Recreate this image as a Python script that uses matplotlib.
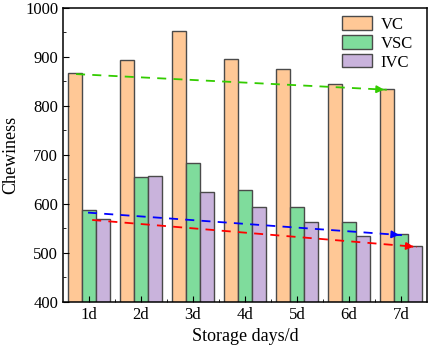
import numpy as np
import matplotlib.pyplot as plt
from matplotlib.ticker import MultipleLocator

plt.rcParams['font.family'] = ['Liberation Serif', 'DejaVu Serif']
plt.rcParams['mathtext.fontset'] = 'stix'

# dati
giorni = ['1d', '2d', '3d', '4d', '5d', '6d', '7d']
vc = [868, 893, 953, 896, 876, 845, 835]
vsc = [587, 654, 683, 629, 593, 563, 539]
ivc = [569, 656, 625, 594, 562, 535, 514]

# linee di tendenza (inizio, fine)
trend_vc = [865, 833]
trend_vsc = [582, 536]
trend_ivc = [567, 512]

x = np.arange(1, len(giorni) + 1)
w = 0.27

fig = plt.figure(figsize=(4.29, 3.48), dpi=100)
ax = fig.add_axes([0.147, 0.133, 0.848, 0.844])

bordo = '#4a4a4a'
ax.bar(x - w, vc, w, color='#ffc896', edgecolor=bordo, lw=1, label='VC')
ax.bar(x, vsc, w, color='#7fdc9c', edgecolor=bordo, lw=1, label='VSC')
ax.bar(x + w, ivc, w, color='#c9b3dc', edgecolor=bordo, lw=1, label='IVC')

# tendenze tratteggiate con freccia finale
def tendenza(x0, x1, y, col):
    ax.plot([x0, x1], y, ls=(0, (5, 4)), color=col, lw=1.3, zorder=3)
    dx = (x1 - x0) * 0.02
    dy = (y[1] - y[0]) * 0.02
    ax.annotate('', xy=(x1, y[1]), xytext=(x1 - dx, y[1] - dy),
                arrowprops=dict(arrowstyle='-|>', color=col, lw=1.2,
                                mutation_scale=11), zorder=4)

tendenza(0.75, 6.73, trend_vc, '#33cc00')
tendenza(0.98, 7.02, trend_vsc, '#0000ff')
tendenza(1.06, 7.30, trend_ivc, '#ff0000')

ax.set_xlim(0.5, 7.5)
ax.set_ylim(400, 1000)
ax.set_xticks(x)
ax.set_xticklabels(giorni)
ax.set_xticks(x[:-1] + 0.5, minor=True)
ax.yaxis.set_major_locator(MultipleLocator(100))
ax.yaxis.set_minor_locator(MultipleLocator(50))
ax.tick_params(which='both', direction='in', labelsize=12)
ax.tick_params(which='major', length=4)
ax.tick_params(which='minor', length=2.5)
for s in ax.spines.values():
    s.set_linewidth(1.1)

ax.set_xlabel('Storage days/d', fontsize=13)
ax.set_ylabel('Chewiness', fontsize=13)

ax.legend(loc='upper right', frameon=False, fontsize=12, handlelength=1.8,
          handleheight=0.85, labelspacing=0.15, handletextpad=0.5,
          borderaxespad=0.1, bbox_to_anchor=(0.985, 1.0))

fig.savefig('out.png', dpi=100)
